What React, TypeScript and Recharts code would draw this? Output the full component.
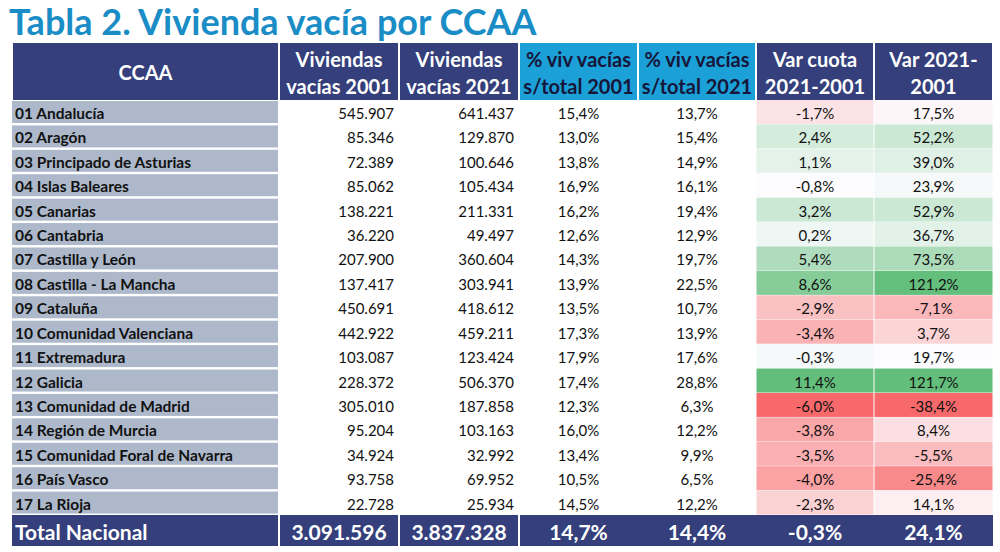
import { Bar, BarChart, XAxis, YAxis } from "recharts"

const regions = [
  "01 Andalucía",
  "02 Aragón",
  "03 Principado de Asturias",
  "04 Islas Baleares",
  "05 Canarias",
  "06 Cantabria",
  "07 Castilla y León",
  "08 Castilla - La Mancha",
  "09 Cataluña",
  "10 Comunidad Valenciana",
  "11 Extremadura",
  "12 Galicia",
  "13 Comunidad de Madrid",
  "14 Región de Murcia",
  "15 Comunidad Foral de Navarra",
  "16 País Vasco",
  "17 La Rioja",
]

const viv2001 = [545907, 85346, 72389, 85062, 138221, 36220, 207900, 137417, 450691, 442922, 103087, 228372, 305010, 95204, 34924, 93758, 22728]
const viv2021 = [641437, 129870, 100646, 105434, 211331, 49497, 360604, 303941, 418612, 459211, 123424, 506370, 187858, 103163, 32992, 69952, 25934]
const pct2001 = [15.4, 13.0, 13.8, 16.9, 16.2, 12.6, 14.3, 13.9, 13.5, 17.3, 17.9, 17.4, 12.3, 16.0, 13.4, 10.5, 14.5]
const pct2021 = [13.7, 15.4, 14.9, 16.1, 19.4, 12.9, 19.7, 22.5, 10.7, 13.9, 17.6, 28.8, 6.3, 12.2, 9.9, 6.5, 12.2]
const varCuota = [-1.7, 2.4, 1.1, -0.8, 3.2, 0.2, 5.4, 8.6, -2.9, -3.4, -0.3, 11.4, -6.0, -3.8, -3.5, -4.0, -2.3]
const var2021 = [17.5, 52.2, 39.0, 23.9, 52.9, 36.7, 73.5, 121.2, -7.1, 3.7, 19.7, 121.7, -38.4, 8.4, -5.5, -25.4, 14.1]

const totalLabel = "Total Nacional"
const totalValues = [3091596, 3837328, 14.7, 14.4, -0.3, 24.1]

const headers = [
  ["CCAA"],
  ["Viviendas", "vacías 2001"],
  ["Viviendas", "vacías 2021"],
  ["% viv vacías", "s/total 2001"],
  ["% viv vacías", "s/total 2021"],
  ["Var cuota", "2021-2001"],
  ["Var 2021-", "2001"],
]

// layout / styles
const FONT = "Lato, 'Open Sans', sans-serif"
const NAVY = "#343f7c"
const CYAN = "#1ba0d7"
const LABEL_BG = "#adb9cb"
const COLS = [
  { width: 267, align: "start" },
  { width: 120, align: "end" },
  { width: 120, align: "end" },
  { width: 119, align: "middle" },
  { width: 118, align: "middle" },
  { width: 118, align: "middle" },
  { width: 119, align: "middle" },
]
const TABLE_W = COLS.reduce((s, c) => s + c.width, 0)
const HEADER_FILL = [NAVY, NAVY, NAVY, CYAN, CYAN, NAVY, NAVY]
const HEADER_TEXT = ["#fff", "#fff", "#fff", "#16163a", "#16163a", "#fff", "#fff"]

const fmtInt = (v: number) => String(v).replace(/\B(?=(\d{3})+(?!\d))/g, ".")
const fmtPct = (v: number) => v.toFixed(1).replace(".", ",") + "%"

// excel style 3-colour scale: min red, 50th percentile white, max green
const RED = [248, 105, 107]
const WHITE = [252, 252, 255]
const GREEN = [99, 190, 123]
function mix(a: number[], b: number[], t: number) {
  const c = a.map((v, i) => Math.round(v + (b[i] - v) * t))
  return `rgb(${c[0]},${c[1]},${c[2]})`
}
function scaleColor(list: number[], v: number) {
  const s = [...list].sort((a, b) => a - b)
  const min = s[0]
  const max = s[s.length - 1]
  const mid = s[Math.floor(s.length / 2)]
  if (v <= mid) return mix(RED, WHITE, (v - min) / (mid - min))
  return mix(WHITE, GREEN, (v - mid) / (max - mid))
}

const bodyRows = regions.map((name, i) => ({
  name,
  cells: [name, fmtInt(viv2001[i]), fmtInt(viv2021[i]), fmtPct(pct2001[i]), fmtPct(pct2021[i]), fmtPct(varCuota[i]), fmtPct(var2021[i])],
  fills: [LABEL_BG, null, null, null, null, scaleColor(varCuota, varCuota[i]), scaleColor(var2021, var2021[i])],
}))

const headerRows = [{ name: "header", cells: headers.map((h) => h.join(" ")) }]

const totalRows = [
  {
    name: totalLabel,
    cells: [totalLabel, fmtInt(totalValues[0]), fmtInt(totalValues[1]), ...totalValues.slice(2).map(fmtPct)],
  },
]

function textX(x: number, w: number, align: string) {
  if (align === "start") return x + 3
  if (align === "end") return x + w - 5
  return x + w / 2
}

function bodyCell(p: any, ci: number) {
  const { x, y, width, height, payload } = p
  const fill = payload.fills[ci]
  const col = COLS[ci]
  return (
    <g>
      {fill && ci === 0 && <rect x={x} y={y + 1} width={width - 1} height={height - 2} fill={fill} />}
      {fill && ci > 0 && <rect x={x + 0.5} y={y} width={width - 1} height={height} fill={fill} />}
      <text
        x={textX(x, width, col.align)}
        y={y + height / 2 + 1}
        textAnchor={col.align}
        dominantBaseline="central"
        fontFamily={FONT}
        fontSize={ci === 0 ? 15.5 : 15}
        fontWeight={ci === 0 ? 700 : 400}
        fill="#111"
      >
        {payload.cells[ci]}
      </text>
    </g>
  )
}

function headerCell(p: any, ci: number) {
  const { x, y, width, height } = p
  const lines = headers[ci]
  const cy = y + height / 2
  return (
    <g>
      <rect x={x + 1} y={y} width={width - 2} height={height - 1} fill={HEADER_FILL[ci]} />
      {lines.map((l, li) => (
        <text
          key={li}
          x={x + width / 2}
          y={lines.length === 1 ? cy : cy + (li === 0 ? -13 : 14)}
          textAnchor="middle"
          dominantBaseline="central"
          fontFamily={FONT}
          fontSize={20}
          fontWeight={700}
          fill={HEADER_TEXT[ci]}
        >
          {l}
        </text>
      ))}
    </g>
  )
}

function totalCell(p: any, ci: number) {
  const { x, y, width, height, payload } = p
  const left = ci > 0 && ci <= 3 ? 1 : 0
  const right = ci <= 2 ? 1 : 0
  return (
    <g>
      <rect x={x + left} y={y + 1} width={width - left - right} height={height - 2} fill={NAVY} />
      <text
        x={ci === 0 ? x + 3 : x + width / 2}
        y={y + height / 2 + 1}
        textAnchor={ci === 0 ? "start" : "middle"}
        dominantBaseline="central"
        fontFamily={FONT}
        fontSize={21}
        fontWeight={700}
        fill="#fff"
      >
        {payload.cells[ci]}
      </text>
    </g>
  )
}

function Band({ rows, height, cell }: { rows: any[]; height: number; cell: (p: any, ci: number) => any }) {
  return (
    <BarChart
      layout="vertical"
      width={1000}
      height={height}
      data={rows}
      margin={{ top: 0, right: 1000 - 12 - TABLE_W, bottom: 0, left: 12 }}
      barCategoryGap={0}
      barGap={0}
    >
      <XAxis type="number" hide domain={[0, TABLE_W]} allowDataOverflow />
      <YAxis type="category" dataKey="name" hide />
      {COLS.map((c, ci) => (
        <Bar
          key={ci}
          dataKey={() => c.width}
          stackId="t"
          isAnimationActive={false}
          shape={(p: any) => cell(p, ci)}
        />
      ))}
    </BarChart>
  )
}

export default function App() {
  return (
    <div style={{ position: "absolute", left: 0, top: 0, width: 1000, height: 552, background: "#fff", overflow: "hidden" }}>
      <div
        style={{
          position: "absolute",
          left: 9,
          top: 3,
          fontFamily: FONT,
          fontWeight: 700,
          fontSize: 36,
          lineHeight: "36px",
          color: "#1b8dc6",
          whiteSpace: "nowrap",
        }}
      >
        Tabla 2. Vivienda vacía por CCAA
      </div>
      <div style={{ position: "absolute", left: 0, top: 43 }}>
        <Band rows={headerRows} height={58} cell={headerCell} />
      </div>
      <div style={{ position: "absolute", left: 0, top: 100 }}>
        <Band rows={bodyRows} height={415} cell={bodyCell} />
      </div>
      <div style={{ position: "absolute", left: 0, top: 514 }}>
        <Band rows={totalRows} height={33} cell={totalCell} />
      </div>
    </div>
  )
}
